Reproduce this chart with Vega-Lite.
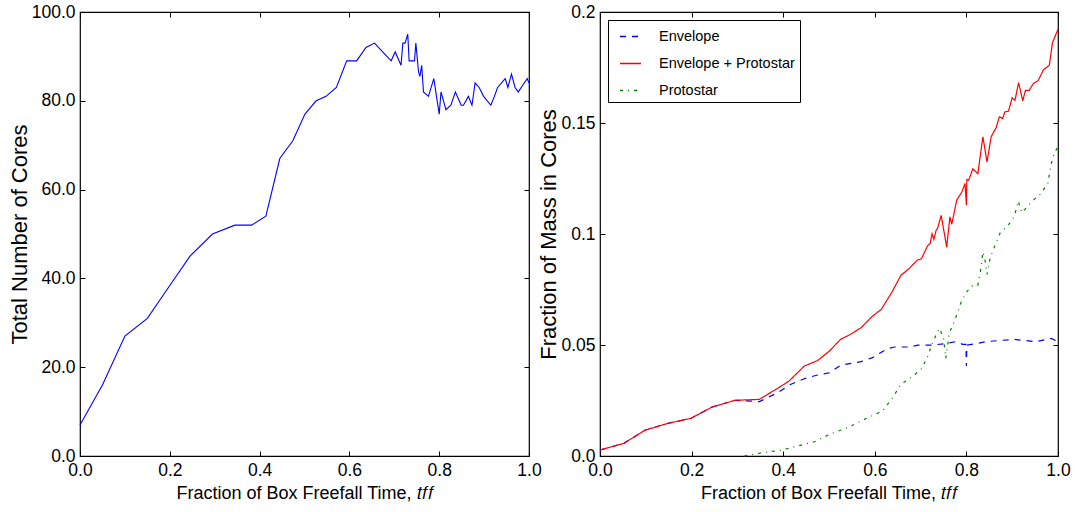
{
  "$schema": "https://vega.github.io/schema/vega-lite/v6.json",
  "background": "white",
  "padding": {"left": 7, "top": 2, "right": 5, "bottom": 5},
  "spacing": 71,
  "bounds": "flush",
  "resolve": {"legend": {"color": "independent", "strokeDash": "independent"}},
  "config": {
    "view": {"stroke": "black", "strokeWidth": 1.2},
    "axis": {
      "domain": false,
      "grid": false,
      "tickColor": "black",
      "tickSize": -5,
      "tickWidth": 1,
      "labelPadding": 10,
      "labelFlush": false,
      "labelOverlap": false,
      "labelFont": "Liberation Sans, Arial, sans-serif",
      "labelFontSize": 17.5,
      "labelColor": "black",
      "titleColor": "black",
      "titleFontWeight": "normal",
      "titleFont": "Liberation Sans, Arial, sans-serif"
    },
    "axisX": {"titleFontSize": 18, "titlePadding": 6},
    "axisY": {"titleFontSize": 22, "titlePadding": 0}
  },
  "datasets": {
    "cores": [
      {"t": 0.0, "n": 7},
      {"t": 0.05, "n": 16},
      {"t": 0.1, "n": 27},
      {"t": 0.15, "n": 31},
      {"t": 0.2, "n": 38.4},
      {"t": 0.245, "n": 45},
      {"t": 0.295, "n": 50},
      {"t": 0.345, "n": 52},
      {"t": 0.382, "n": 52},
      {"t": 0.414, "n": 54},
      {"t": 0.445, "n": 67},
      {"t": 0.474, "n": 71},
      {"t": 0.501, "n": 77},
      {"t": 0.526, "n": 80},
      {"t": 0.548, "n": 81},
      {"t": 0.571, "n": 83},
      {"t": 0.594, "n": 89},
      {"t": 0.616, "n": 89},
      {"t": 0.637, "n": 92},
      {"t": 0.656, "n": 93},
      {"t": 0.674, "n": 91},
      {"t": 0.693, "n": 89},
      {"t": 0.702, "n": 91},
      {"t": 0.715, "n": 88},
      {"t": 0.719, "n": 93},
      {"t": 0.724, "n": 93},
      {"t": 0.73, "n": 95},
      {"t": 0.733, "n": 89},
      {"t": 0.745, "n": 89},
      {"t": 0.748, "n": 93},
      {"t": 0.754, "n": 86.5},
      {"t": 0.757, "n": 85.5},
      {"t": 0.761, "n": 88},
      {"t": 0.765, "n": 82},
      {"t": 0.776, "n": 81},
      {"t": 0.788, "n": 85},
      {"t": 0.8, "n": 77},
      {"t": 0.804, "n": 82},
      {"t": 0.815, "n": 78},
      {"t": 0.826, "n": 79},
      {"t": 0.836, "n": 82},
      {"t": 0.849, "n": 79},
      {"t": 0.854, "n": 79},
      {"t": 0.865, "n": 81},
      {"t": 0.873, "n": 79},
      {"t": 0.88, "n": 84},
      {"t": 0.889, "n": 83},
      {"t": 0.899, "n": 81},
      {"t": 0.915, "n": 79},
      {"t": 0.923, "n": 81},
      {"t": 0.93, "n": 83},
      {"t": 0.947, "n": 85},
      {"t": 0.953, "n": 83},
      {"t": 0.961, "n": 86},
      {"t": 0.969, "n": 83},
      {"t": 0.976, "n": 82},
      {"t": 0.986, "n": 83.5},
      {"t": 0.996, "n": 85},
      {"t": 1.0, "n": 84}
    ],
    "mass": [
      {"series": "Envelope", "t": 0.0, "f": 0.0027},
      {"series": "Envelope", "t": 0.052, "f": 0.0057},
      {"series": "Envelope", "t": 0.098, "f": 0.0116},
      {"series": "Envelope", "t": 0.148, "f": 0.0147},
      {"series": "Envelope", "t": 0.199, "f": 0.017},
      {"series": "Envelope", "t": 0.244, "f": 0.022},
      {"series": "Envelope", "t": 0.295, "f": 0.0251},
      {"series": "Envelope", "t": 0.348, "f": 0.0245},
      {"series": "Envelope", "t": 0.388, "f": 0.0285},
      {"series": "Envelope", "t": 0.417, "f": 0.0323},
      {"series": "Envelope", "t": 0.446, "f": 0.0348},
      {"series": "Envelope", "t": 0.475, "f": 0.0365},
      {"series": "Envelope", "t": 0.501, "f": 0.0375},
      {"series": "Envelope", "t": 0.526, "f": 0.0409},
      {"series": "Envelope", "t": 0.57, "f": 0.0425},
      {"series": "Envelope", "t": 0.595, "f": 0.0443},
      {"series": "Envelope", "t": 0.627, "f": 0.0483},
      {"series": "Envelope", "t": 0.643, "f": 0.0491},
      {"series": "Envelope", "t": 0.675, "f": 0.0491},
      {"series": "Envelope", "t": 0.694, "f": 0.0499},
      {"series": "Envelope", "t": 0.723, "f": 0.0499},
      {"series": "Envelope", "t": 0.752, "f": 0.0506},
      {"series": "Envelope", "t": 0.777, "f": 0.0515},
      {"series": "Envelope", "t": 0.792, "f": 0.0503},
      {"series": "Envelope", "t": 0.799, "f": 0.0503},
      {"series": "Envelope", "t": 0.8, "f": 0.0405},
      {"series": "Envelope", "t": 0.801, "f": 0.0499},
      {"series": "Envelope", "t": 0.821, "f": 0.0506},
      {"series": "Envelope", "t": 0.843, "f": 0.0515},
      {"series": "Envelope", "t": 0.876, "f": 0.0521},
      {"series": "Envelope", "t": 0.905, "f": 0.0525},
      {"series": "Envelope", "t": 0.952, "f": 0.0515},
      {"series": "Envelope", "t": 0.985, "f": 0.053},
      {"series": "Envelope", "t": 1.0, "f": 0.0515},
      {"series": "Envelope + Protostar", "t": 0.0, "f": 0.0027},
      {"series": "Envelope + Protostar", "t": 0.052, "f": 0.0057},
      {"series": "Envelope + Protostar", "t": 0.098, "f": 0.0116},
      {"series": "Envelope + Protostar", "t": 0.148, "f": 0.0147},
      {"series": "Envelope + Protostar", "t": 0.199, "f": 0.017},
      {"series": "Envelope + Protostar", "t": 0.244, "f": 0.022},
      {"series": "Envelope + Protostar", "t": 0.295, "f": 0.0251},
      {"series": "Envelope + Protostar", "t": 0.348, "f": 0.0255},
      {"series": "Envelope + Protostar", "t": 0.388, "f": 0.0305},
      {"series": "Envelope + Protostar", "t": 0.413, "f": 0.0338},
      {"series": "Envelope + Protostar", "t": 0.446, "f": 0.0405},
      {"series": "Envelope + Protostar", "t": 0.475, "f": 0.043},
      {"series": "Envelope + Protostar", "t": 0.501, "f": 0.0473},
      {"series": "Envelope + Protostar", "t": 0.525, "f": 0.0525},
      {"series": "Envelope + Protostar", "t": 0.547, "f": 0.0548},
      {"series": "Envelope + Protostar", "t": 0.57, "f": 0.0578},
      {"series": "Envelope + Protostar", "t": 0.595, "f": 0.063},
      {"series": "Envelope + Protostar", "t": 0.614, "f": 0.066},
      {"series": "Envelope + Protostar", "t": 0.638, "f": 0.074},
      {"series": "Envelope + Protostar", "t": 0.657, "f": 0.0814},
      {"series": "Envelope + Protostar", "t": 0.675, "f": 0.0844},
      {"series": "Envelope + Protostar", "t": 0.692, "f": 0.0881},
      {"series": "Envelope + Protostar", "t": 0.702, "f": 0.0889},
      {"series": "Envelope + Protostar", "t": 0.715, "f": 0.0946},
      {"series": "Envelope + Protostar", "t": 0.721, "f": 0.0958},
      {"series": "Envelope + Protostar", "t": 0.725, "f": 0.1001},
      {"series": "Envelope + Protostar", "t": 0.729, "f": 0.0976},
      {"series": "Envelope + Protostar", "t": 0.734, "f": 0.1017},
      {"series": "Envelope + Protostar", "t": 0.737, "f": 0.1025},
      {"series": "Envelope + Protostar", "t": 0.745, "f": 0.1084},
      {"series": "Envelope + Protostar", "t": 0.757, "f": 0.0941},
      {"series": "Envelope + Protostar", "t": 0.764, "f": 0.1077},
      {"series": "Envelope + Protostar", "t": 0.768, "f": 0.1044},
      {"series": "Envelope + Protostar", "t": 0.779, "f": 0.1153},
      {"series": "Envelope + Protostar", "t": 0.79, "f": 0.1189},
      {"series": "Envelope + Protostar", "t": 0.797, "f": 0.1228},
      {"series": "Envelope + Protostar", "t": 0.8, "f": 0.113},
      {"series": "Envelope + Protostar", "t": 0.801, "f": 0.1246},
      {"series": "Envelope + Protostar", "t": 0.805, "f": 0.1242},
      {"series": "Envelope + Protostar", "t": 0.814, "f": 0.1294},
      {"series": "Envelope + Protostar", "t": 0.825, "f": 0.1272},
      {"series": "Envelope + Protostar", "t": 0.836, "f": 0.1438},
      {"series": "Envelope + Protostar", "t": 0.845, "f": 0.1324},
      {"series": "Envelope + Protostar", "t": 0.854, "f": 0.1438},
      {"series": "Envelope + Protostar", "t": 0.865, "f": 0.1479},
      {"series": "Envelope + Protostar", "t": 0.872, "f": 0.1528},
      {"series": "Envelope + Protostar", "t": 0.879, "f": 0.152},
      {"series": "Envelope + Protostar", "t": 0.884, "f": 0.155},
      {"series": "Envelope + Protostar", "t": 0.892, "f": 0.1554},
      {"series": "Envelope + Protostar", "t": 0.9, "f": 0.1614},
      {"series": "Envelope + Protostar", "t": 0.906, "f": 0.1602},
      {"series": "Envelope + Protostar", "t": 0.914, "f": 0.1682},
      {"series": "Envelope + Protostar", "t": 0.923, "f": 0.16},
      {"series": "Envelope + Protostar", "t": 0.929, "f": 0.1647},
      {"series": "Envelope + Protostar", "t": 0.937, "f": 0.1647},
      {"series": "Envelope + Protostar", "t": 0.946, "f": 0.1677},
      {"series": "Envelope + Protostar", "t": 0.957, "f": 0.1692},
      {"series": "Envelope + Protostar", "t": 0.968, "f": 0.1739},
      {"series": "Envelope + Protostar", "t": 0.981, "f": 0.176},
      {"series": "Envelope + Protostar", "t": 0.988, "f": 0.1862},
      {"series": "Envelope + Protostar", "t": 0.996, "f": 0.1902},
      {"series": "Envelope + Protostar", "t": 1.0, "f": 0.1922},
      {"series": "Protostar", "t": 0.315, "f": 0.0},
      {"series": "Protostar", "t": 0.355, "f": 0.0015},
      {"series": "Protostar", "t": 0.395, "f": 0.0026},
      {"series": "Protostar", "t": 0.424, "f": 0.0041},
      {"series": "Protostar", "t": 0.468, "f": 0.0064},
      {"series": "Protostar", "t": 0.504, "f": 0.01},
      {"series": "Protostar", "t": 0.541, "f": 0.0128},
      {"series": "Protostar", "t": 0.577, "f": 0.0165},
      {"series": "Protostar", "t": 0.617, "f": 0.0203},
      {"series": "Protostar", "t": 0.639, "f": 0.0263},
      {"series": "Protostar", "t": 0.657, "f": 0.0323},
      {"series": "Protostar", "t": 0.679, "f": 0.0353},
      {"series": "Protostar", "t": 0.701, "f": 0.039},
      {"series": "Protostar", "t": 0.715, "f": 0.0446},
      {"series": "Protostar", "t": 0.726, "f": 0.051},
      {"series": "Protostar", "t": 0.741, "f": 0.0575},
      {"series": "Protostar", "t": 0.75, "f": 0.0533},
      {"series": "Protostar", "t": 0.755, "f": 0.044},
      {"series": "Protostar", "t": 0.763, "f": 0.0556},
      {"series": "Protostar", "t": 0.774, "f": 0.0608},
      {"series": "Protostar", "t": 0.788, "f": 0.069},
      {"series": "Protostar", "t": 0.799, "f": 0.0736},
      {"series": "Protostar", "t": 0.814, "f": 0.0769},
      {"series": "Protostar", "t": 0.825, "f": 0.0769},
      {"series": "Protostar", "t": 0.832, "f": 0.0848},
      {"series": "Protostar", "t": 0.836, "f": 0.0919},
      {"series": "Protostar", "t": 0.841, "f": 0.0878},
      {"series": "Protostar", "t": 0.845, "f": 0.0818},
      {"series": "Protostar", "t": 0.852, "f": 0.0893},
      {"series": "Protostar", "t": 0.861, "f": 0.0941},
      {"series": "Protostar", "t": 0.874, "f": 0.1006},
      {"series": "Protostar", "t": 0.89, "f": 0.1036},
      {"series": "Protostar", "t": 0.905, "f": 0.1081},
      {"series": "Protostar", "t": 0.913, "f": 0.1149},
      {"series": "Protostar", "t": 0.921, "f": 0.1096},
      {"series": "Protostar", "t": 0.934, "f": 0.1126},
      {"series": "Protostar", "t": 0.948, "f": 0.1156},
      {"series": "Protostar", "t": 0.963, "f": 0.1182},
      {"series": "Protostar", "t": 0.978, "f": 0.1231},
      {"series": "Protostar", "t": 0.985, "f": 0.1314},
      {"series": "Protostar", "t": 0.992, "f": 0.1366},
      {"series": "Protostar", "t": 1.0, "f": 0.1392}
    ]
  },
  "hconcat": [
    {
      "width": 449,
      "height": 444,
      "data": {"name": "cores"},
      "layer": [
        {
          "mark": {"type": "line", "color": "#0000ff", "strokeWidth": 1.1},
          "encoding": {
            "x": {
              "field": "t", "type": "quantitative",
              "scale": {"domain": [0, 1], "nice": false},
              "axis": {"orient": "bottom", "values": [0, 0.2, 0.4, 0.6, 0.8, 1], "format": ".1f", "title": "Fraction of Box Freefall Time, 𝑡𝑓𝑓"}
            },
            "y": {
              "field": "n", "type": "quantitative",
              "scale": {"domain": [0, 100], "nice": false},
              "axis": {"orient": "left", "values": [0, 20, 40, 60, 80, 100], "format": ".1f", "title": "Total Number of Cores"}
            }
          }
        },
        {
          "mark": {"type": "line", "opacity": 0},
          "encoding": {
            "x": {
              "field": "t", "type": "quantitative",
              "axis": {"orient": "top", "values": [0, 0.2, 0.4, 0.6, 0.8, 1], "labels": false, "title": null}
            },
            "y": {
              "field": "n", "type": "quantitative",
              "axis": {"orient": "right", "values": [0, 20, 40, 60, 80, 100], "labels": false, "title": null}
            }
          }
        }
      ],
      "resolve": {"axis": {"x": "independent", "y": "independent"}}
    },
    {
      "width": 458,
      "height": 444,
      "data": {"name": "mass"},
      "layer": [
        {
          "mark": {"type": "line", "strokeWidth": 1.2},
          "encoding": {
            "x": {
              "field": "t", "type": "quantitative",
              "scale": {"domain": [0, 1], "nice": false},
              "axis": {"orient": "bottom", "values": [0, 0.2, 0.4, 0.6, 0.8, 1], "format": ".1f", "title": "Fraction of Box Freefall Time, 𝑡𝑓𝑓"}
            },
            "y": {
              "field": "f", "type": "quantitative",
              "scale": {"domain": [0, 0.2], "nice": false},
              "axis": {"orient": "left", "values": [0, 0.05, 0.1, 0.15, 0.2], "labelExpr": "datum.value === 0 ? '0.0' : format(datum.value, '.2~f')", "title": "Fraction of Mass in Cores"}
            },
            "color": {
              "field": "series", "type": "nominal",
              "scale": {"domain": ["Envelope", "Envelope + Protostar", "Protostar"], "range": ["#0000ff", "#ff0000", "#008000"]},
              "legend": {
                "orient": "top-left", "offset": 8, "title": null,
                "padding": 5, "symbolOffset": 6, "rowPadding": 9, "labelOffset": 17, "labelLimit": 300,
                "strokeColor": "black", "fillColor": "white", "cornerRadius": 0,
                "symbolType": "stroke", "symbolSize": 441, "symbolStrokeWidth": 1.3,
                "labelFont": "Liberation Sans, Arial, sans-serif",
                "labelFontSize": 14.5, "labelColor": "black"
              }
            },
            "strokeDash": {
              "field": "series", "type": "nominal",
              "scale": {"domain": ["Envelope", "Envelope + Protostar", "Protostar"], "range": [[6, 6], [1, 0], [3, 5, 1, 5]]},
              "legend": {
                "orient": "top-left", "offset": 8, "title": null,
                "padding": 5, "symbolOffset": 6, "rowPadding": 9, "labelOffset": 17, "labelLimit": 300,
                "strokeColor": "black", "fillColor": "white", "cornerRadius": 0,
                "symbolType": "stroke", "symbolSize": 441, "symbolStrokeWidth": 1.3,
                "labelFont": "Liberation Sans, Arial, sans-serif",
                "labelFontSize": 14.5, "labelColor": "black"
              }
            }
          }
        },
        {
          "mark": {"type": "line", "opacity": 0},
          "encoding": {
            "x": {
              "field": "t", "type": "quantitative",
              "axis": {"orient": "top", "values": [0, 0.2, 0.4, 0.6, 0.8, 1], "labels": false, "title": null}
            },
            "y": {
              "field": "f", "type": "quantitative",
              "axis": {"orient": "right", "values": [0, 0.05, 0.1, 0.15, 0.2], "labels": false, "title": null}
            }
          }
        }
      ],
      "resolve": {"axis": {"x": "independent", "y": "independent"}}
    }
  ]
}
